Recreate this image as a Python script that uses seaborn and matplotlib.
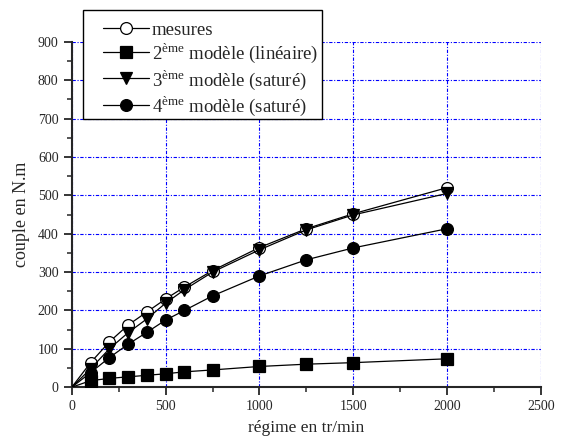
import matplotlib
matplotlib.use("Agg")
import matplotlib.pyplot as plt
import seaborn as sns
import pandas as pd
from matplotlib.ticker import MultipleLocator
from matplotlib.patches import Rectangle

regime = [0, 100, 200, 300, 400, 500, 600, 750, 1000, 1250, 1500, 2000]
mesures = [0, 64, 118, 162, 196, 230, 261, 304, 364, 413, 452, 520]
modele2 = [0, 17, 23, 27, 31, 35, 40, 45, 54, 60, 64, 74]
modele3 = [0, 48, 100, 142, 178, 219, 254, 300, 358, 410, 449, 505]
modele4 = [0, 38, 77, 112, 143, 175, 200, 238, 290, 332, 363, 413]

labels = ["mesures",
          "2$^{\\mathrm{ème}}$ modèle (linéaire)",
          "3$^{\\mathrm{ème}}$ modèle (saturé)",
          "4$^{\\mathrm{ème}}$ modèle (saturé)"]

sns.set_style("ticks")
plt.rcParams["font.family"] = ["Liberation Serif", "DejaVu Serif"]
plt.rcParams["mathtext.fontset"] = "custom"
plt.rcParams["mathtext.rm"] = "Liberation Serif"

W, H = 561, 441
fig = plt.figure(figsize=(W / 100, H / 100), dpi=100)
ax = fig.add_axes([0.128, 0.122, 0.836, 0.783])

series = [
    (mesures, "o", "white", 8.5),
    (modele2, "s", "black", 8),
    (modele3, "v", "black", 8.5),
    (modele4, "o", "black", 8.5),
]
for (vals, mk, fc, ms), lab in zip(series, labels):
    df = pd.DataFrame({"x": regime, "y": vals})
    sns.lineplot(data=df, x="x", y="y", ax=ax, color="black", lw=0.9,
                 marker=mk, markersize=ms, markerfacecolor=fc,
                 markeredgecolor="black", markeredgewidth=0.9,
                 markevery=slice(1, None), label=lab, zorder=3)

ax.set_xlim(0, 2500)
ax.set_ylim(0, 900)
ax.xaxis.set_major_locator(MultipleLocator(500))
ax.xaxis.set_minor_locator(MultipleLocator(250))
ax.yaxis.set_major_locator(MultipleLocator(100))
ax.yaxis.set_minor_locator(MultipleLocator(50))
ax.grid(True, which="major", color="blue", lw=0.8, linestyle=(0, (3, 1.5, 1, 1.5)))
ax.set_axisbelow(True)
for s in ["top", "right"]:
    ax.spines[s].set_visible(False)
for s in ["left", "bottom"]:
    ax.spines[s].set_linewidth(1.5)
ax.tick_params(which="major", direction="out", length=6, width=1.3, labelsize=10)
ax.tick_params(which="minor", direction="out", length=3.5, width=1.1)

ax.set_xlabel("régime en tr/min", fontsize=12.5, labelpad=5)
ax.set_ylabel("couple en N.m", fontsize=13, labelpad=6)

handles, labs = ax.get_legend_handles_labels()
ax.get_legend().remove()

# legend box frame (pixels from top-left: 83..322 x 10..119)
fig.patches.append(Rectangle((83 / W, 1 - 119 / H), (322 - 83) / W, (119 - 10) / H,
                             transform=fig.transFigure, facecolor="white",
                             edgecolor="black", lw=1.0, zorder=4))
leg = fig.legend(handles, labs, loc="upper left",
                 bbox_to_anchor=(103 / W, 1 - 21 / H), frameon=False,
                 fontsize=13.5, handlelength=2.45, handletextpad=0.15,
                 borderpad=0, labelspacing=0.12, borderaxespad=0,
                 handleheight=0.9)
leg.set_zorder(5)

fig.savefig("out.png", dpi=100)
